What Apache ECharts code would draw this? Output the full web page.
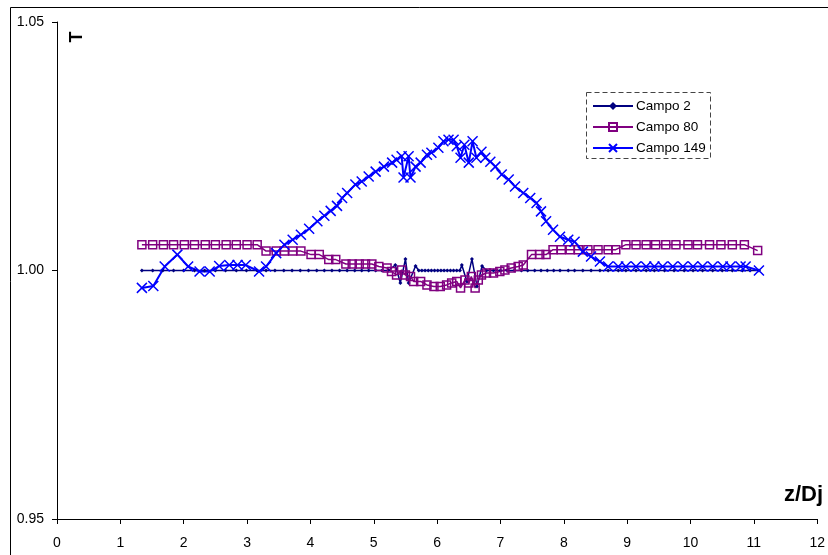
<!DOCTYPE html>
<html>
<head>
<meta charset="utf-8">
<title>T vs z/Dj</title>
<script src="https://cdn.jsdelivr.net/npm/echarts@6/dist/echarts.min.js"></script>
<style>
  html, body { margin: 0; padding: 0; background: #fff; }
  #chart { width: 828px; height: 555px; }
</style>
</head>
<body>
<div id="chart"></div>
<script>
// Series names (legend order)
const seriesNames = ['Campo 2', 'Campo 80', 'Campo 149'];

// Tick labels
const xTickLabels = ['0', '1', '2', '3', '4', '5', '6', '7', '8', '9', '10', '11', '12'];
const yTickLabels = ['0.95', '1.00', '1.05'];

// Campo 2: [z/Dj, T]
const campo2 = [
  [1.34, 1.0000], [1.51, 1.0000], [1.67, 1.0000], [1.84, 1.0000], [2.00, 1.0000],
  [2.17, 1.0000], [2.33, 1.0000], [2.50, 1.0000], [2.66, 1.0000], [2.83, 1.0000],
  [2.99, 1.0000], [3.16, 1.0000], [3.30, 1.0000], [3.44, 1.0000], [3.58, 1.0000],
  [3.71, 1.0000], [3.84, 1.0000], [3.97, 1.0000], [4.10, 1.0000], [4.22, 1.0000],
  [4.34, 1.0000], [4.46, 1.0000], [4.58, 1.0000], [4.70, 1.0000], [4.81, 1.0000],
  [4.92, 1.0000], [5.03, 1.0000], [5.13, 1.0000], [5.23, 1.0000],
  [5.34, 1.0011], [5.42, 0.9975], [5.50, 1.0023], [5.55, 0.9975], [5.66, 1.0009],
  [5.71, 1.0000], [5.76, 1.0000], [5.81, 1.0000], [5.86, 1.0000], [5.91, 1.0000],
  [5.96, 1.0000], [6.01, 1.0000], [6.06, 1.0000], [6.11, 1.0000], [6.16, 1.0000],
  [6.21, 1.0000], [6.26, 1.0000], [6.31, 1.0000], [6.36, 1.0000],
  [6.39, 1.0011], [6.47, 0.9978], [6.55, 1.0023], [6.63, 0.9968], [6.71, 1.0009],
  [6.78, 1.0000], [6.89, 1.0000], [7.00, 1.0000], [7.11, 1.0000], [7.22, 1.0000],
  [7.33, 1.0000], [7.43, 1.0000], [7.54, 1.0000], [7.64, 1.0000], [7.74, 1.0000],
  [7.84, 1.0000], [7.94, 1.0000], [8.07, 1.0000], [8.17, 1.0000], [8.30, 1.0000],
  [8.43, 1.0000], [8.57, 1.0000], [8.70, 1.0000], [8.86, 1.0000], [8.98, 1.0000],
  [9.14, 1.0000], [9.30, 1.0000], [9.43, 1.0000], [9.59, 1.0000], [9.74, 1.0000],
  [9.90, 1.0000], [10.04, 1.0000], [10.19, 1.0000], [10.35, 1.0000], [10.50, 1.0000],
  [10.66, 1.0000], [10.82, 1.0000], [10.94, 1.0000], [11.08, 1.0000]
];

// Campo 80: [z/Dj, T]
const campo80 = [
  [1.34, 1.0052], [1.51, 1.0052], [1.68, 1.0052], [1.84, 1.0052], [2.01, 1.0052],
  [2.17, 1.0052], [2.34, 1.0052], [2.50, 1.0052], [2.67, 1.0052], [2.83, 1.0052],
  [3.00, 1.0052], [3.16, 1.0052],
  [3.30, 1.0039], [3.46, 1.0039], [3.59, 1.0039], [3.72, 1.0039], [3.85, 1.0039],
  [4.01, 1.0032], [4.14, 1.0032], [4.29, 1.0022], [4.40, 1.0022],
  [4.56, 1.0013], [4.66, 1.0013], [4.77, 1.0013], [4.87, 1.0013], [4.97, 1.0013],
  [5.08, 1.0008], [5.21, 1.0005], [5.28, 0.9998], [5.36, 0.9991], [5.44, 1.0001],
  [5.50, 0.9991], [5.58, 0.9988], [5.63, 0.9978], [5.74, 0.9978], [5.84, 0.9971],
  [5.95, 0.9968], [6.05, 0.9968], [6.15, 0.9971], [6.23, 0.9975], [6.31, 0.9978],
  [6.37, 0.9965], [6.44, 0.9981], [6.50, 0.9975], [6.54, 0.9988], [6.60, 0.9965],
  [6.65, 0.9981], [6.70, 0.9991], [6.78, 0.9995], [6.89, 0.9995], [6.99, 0.9998],
  [7.07, 1.0001], [7.17, 1.0005], [7.28, 1.0008], [7.36, 1.0011],
  [7.49, 1.0032], [7.62, 1.0032], [7.72, 1.0032],
  [7.83, 1.0042], [7.96, 1.0042], [8.10, 1.0042], [8.23, 1.0042], [8.38, 1.0042],
  [8.54, 1.0042], [8.70, 1.0042], [8.82, 1.0042],
  [8.98, 1.0052], [9.14, 1.0052], [9.30, 1.0052], [9.45, 1.0052], [9.61, 1.0052],
  [9.77, 1.0052], [9.96, 1.0052], [10.11, 1.0052], [10.30, 1.0052], [10.48, 1.0052],
  [10.66, 1.0052], [10.85, 1.0052], [11.06, 1.0040]
];

// Campo 149: [z/Dj, T]
const campo149 = [
  [1.34, 0.9965], [1.52, 0.9969], [1.70, 1.0008], [1.90, 1.0032], [2.07, 1.0008],
  [2.25, 0.9998], [2.41, 0.9998], [2.56, 1.0009], [2.72, 1.0011], [2.85, 1.0011],
  [2.98, 1.0011], [3.19, 0.9998], [3.30, 1.0008], [3.46, 1.0035], [3.59, 1.0052],
  [3.72, 1.0062], [3.85, 1.0072], [3.98, 1.0084], [4.11, 1.0099], [4.22, 1.0110],
  [4.32, 1.0120], [4.42, 1.0130], [4.50, 1.0146], [4.58, 1.0156], [4.71, 1.0173],
  [4.81, 1.0179], [4.92, 1.0189], [5.03, 1.0199], [5.16, 1.0209], [5.29, 1.0217],
  [5.36, 1.0223], [5.44, 1.0230], [5.47, 1.0187], [5.55, 1.0230], [5.58, 1.0187],
  [5.66, 1.0209], [5.74, 1.0217], [5.84, 1.0233], [5.91, 1.0237], [6.02, 1.0247],
  [6.10, 1.0260], [6.18, 1.0263], [6.26, 1.0263], [6.31, 1.0250], [6.37, 1.0227],
  [6.43, 1.0253], [6.50, 1.0217], [6.56, 1.0260], [6.62, 1.0227], [6.70, 1.0239],
  [6.76, 1.0227], [6.84, 1.0219], [6.92, 1.0209], [7.02, 1.0193], [7.13, 1.0183],
  [7.23, 1.0169], [7.36, 1.0156], [7.47, 1.0146], [7.57, 1.0136], [7.64, 1.0119],
  [7.72, 1.0099], [7.83, 1.0082], [7.94, 1.0068], [8.07, 1.0062], [8.17, 1.0058],
  [8.30, 1.0038], [8.43, 1.0028], [8.57, 1.0018], [8.70, 1.0008], [8.86, 1.0008],
  [8.98, 1.0008], [9.14, 1.0008], [9.30, 1.0008], [9.43, 1.0008], [9.56, 1.0008],
  [9.72, 1.0008], [9.88, 1.0008], [10.04, 1.0008], [10.19, 1.0008], [10.35, 1.0008],
  [10.51, 1.0008], [10.63, 1.0008], [10.79, 1.0008], [10.87, 1.0008], [11.08, 1.0000]
];

const FONT = '"Liberation Sans", Arial, sans-serif';
const crossSymbol = 'path://M0,0L10,10M10,0L0,10';

const chart = echarts.init(document.getElementById('chart'), null, { renderer: 'canvas' });

const axisCommon = {
  type: 'value',
  axisLine: { show: true, lineStyle: { color: '#000', width: 1 } },
  axisTick: { show: true, inside: false, length: 5, lineStyle: { color: '#000', width: 1 } },
  splitLine: { show: false },
  axisLabel: { color: '#000', fontSize: 14, fontFamily: FONT }
};

chart.setOption({
  animation: false,
  backgroundColor: '#fff',
  grid: { left: 57, right: 8, top: 22, bottom: 36, containLabel: false },
  xAxis: Object.assign({}, axisCommon, {
    min: 0, max: 12, interval: 1,
    axisLabel: Object.assign({}, axisCommon.axisLabel, {
      margin: 17,
      formatter: v => xTickLabels[Math.round(v)]
    })
  }),
  yAxis: Object.assign({}, axisCommon, {
    min: 0.95, max: 1.05, interval: 0.05,
    axisLabel: Object.assign({}, axisCommon.axisLabel, {
      margin: 13,
      formatter: v => yTickLabels[Math.round((v - 0.95) / 0.05)]
    })
  }),
  legend: {
    orient: 'vertical',
    left: 592, top: 99, padding: 0,
    itemWidth: 40, itemHeight: 10, itemGap: 7,
    textStyle: { color: '#000', fontSize: 13.5, fontFamily: FONT, padding: [0, 0, 0, -2] },
    data: seriesNames
  },
  graphic: [
    {
      type: 'rect', silent: true, z: -1,
      shape: { x: 10.5, y: 7.5, width: 830, height: 560 },
      style: { fill: null, stroke: '#000', lineWidth: 1 }
    },
    {
      type: 'rect', silent: true,
      shape: { x: 586.5, y: 92.5, width: 124, height: 66 },
      style: { fill: '#fff', stroke: '#444', lineWidth: 1, lineDash: [5, 3] },
      z: 0
    },
    {
      type: 'text', silent: true,
      x: 77, y: 37, rotation: Math.PI / 2,
      style: {
        text: 'T', fill: '#000', font: 'bold 18px ' + FONT,
        align: 'center', verticalAlign: 'middle'
      }
    },
    {
      type: 'text', silent: true,
      x: 823, y: 495,
      style: {
        text: 'z/Dj', fill: '#000', font: 'bold 22px ' + FONT,
        align: 'right', verticalAlign: 'middle'
      }
    }
  ],
  series: [
    {
      name: seriesNames[0], type: 'line', data: campo2,
      symbol: 'diamond', symbolSize: 4, showAllSymbol: true,
      lineStyle: { color: '#000080', width: 1.5 },
      itemStyle: { color: '#000080' }
    },
    {
      name: seriesNames[1], type: 'line', data: campo80,
      symbol: 'rect', symbolSize: 8, showAllSymbol: true,
      lineStyle: { color: '#800080', width: 1.5 },
      itemStyle: { color: 'rgba(255,255,255,0)', borderColor: '#800080', borderWidth: 1.5 }
    },
    {
      name: seriesNames[2], type: 'line', data: campo149,
      symbol: crossSymbol, symbolSize: 10, showAllSymbol: true,
      lineStyle: { color: '#0000ff', width: 2 },
      itemStyle: { color: 'rgba(255,255,255,0)', borderColor: '#0000ff', borderWidth: 1.5 }
    }
  ]
});
</script>
</body>
</html>
